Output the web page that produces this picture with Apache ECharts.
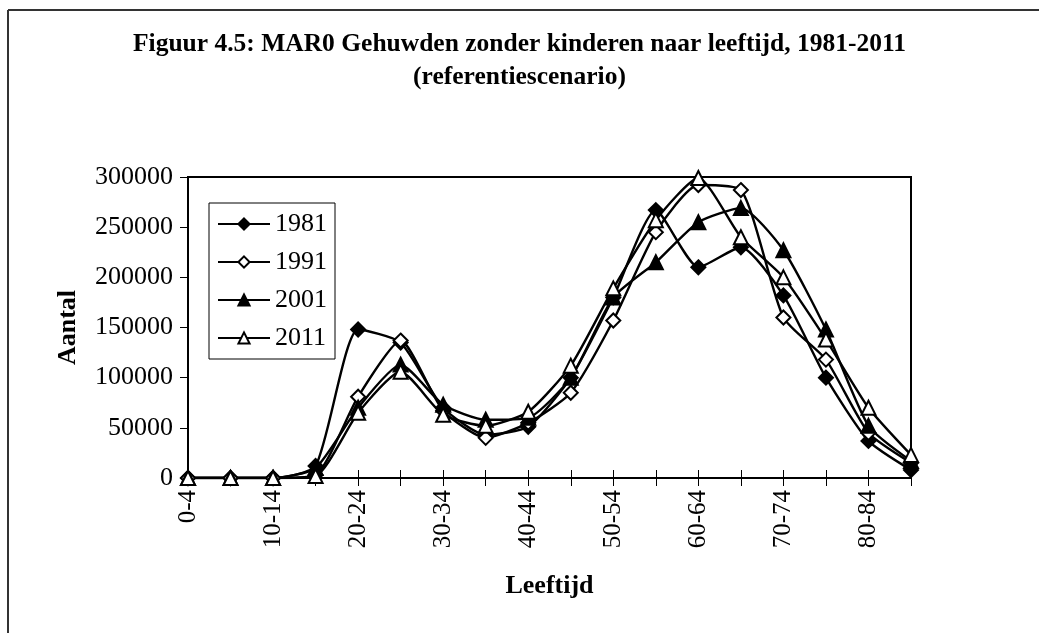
<!DOCTYPE html>
<html>
<head>
<meta charset="utf-8">
<script src="https://cdn.jsdelivr.net/npm/echarts@6/dist/echarts.min.js"></script>
<style>html,body{margin:0;padding:0;background:#fff;}#c{width:1039px;height:633px;}</style>
</head>
<body>
<div id="c"></div>
<script>
var categories = ['0-4','5-9','10-14','15-19','20-24','25-29','30-34','35-39','40-44','45-49','50-54','55-59','60-64','65-69','70-74','75-79','80-84','85+'];
var s1981 = [0,0,0,12000,148000,135000,70000,43000,51000,100000,180000,267000,210000,230000,182000,100000,37000,8000];
var s1991 = [0,0,0,3000,81000,137000,67000,40000,55000,85000,157000,245000,292000,287000,160000,118000,45000,15000];
var s2001 = [0,0,0,10000,70000,113000,73000,58000,60000,100000,180000,215000,255000,269000,227000,148000,52000,17000];
var s2011 = [0,0,0,2000,65000,106000,63000,52000,66000,112000,189000,257000,299000,240000,200000,138000,70000,23000];
var seriesNames = ['1981','1991','2001','2011'];
var yTicks = [0,50000,100000,150000,200000,250000,300000];

var FONT = '"Liberation Serif", "Times New Roman", serif';
var chart = echarts.init(document.getElementById('c'), null, {renderer: 'canvas'});

function mk(name, data, symbol, filled) {
  return {
    name: name, type: 'line', data: data, smooth: 0.2,
    symbol: symbol, symbolSize: 14,
    showSymbol: true,
    lineStyle: {color: '#000', width: 2.4},
    itemStyle: {color: filled ? '#000' : '#fff', borderColor: '#000', borderWidth: 2},
    emphasis: {disabled: true},
    z: 3
  };
}

chart.setOption({
  animation: false,
  backgroundColor: '#fff',
  title: {
    text: 'Figuur 4.5: MAR0 Gehuwden zonder kinderen naar leeftijd, 1981-2011\n(referentiescenario)',
    left: 'center', top: 23,
    textStyle: {fontFamily: FONT, fontWeight: 'bold', fontSize: 25.5, lineHeight: 33, color: '#000'}
  },
  graphic: [
    {type: 'line', shape: {x1: 8, y1: 10, x2: 1039, y2: 10}, style: {stroke: '#333', lineWidth: 2}},
    {type: 'line', shape: {x1: 8, y1: 10, x2: 8, y2: 633}, style: {stroke: '#333', lineWidth: 2}}
  ],
  legend: {
    orient: 'vertical', left: 209, top: 203,
    data: seriesNames,
    itemWidth: 52, itemHeight: 14, itemGap: 12,
    borderColor: '#000', borderWidth: 1, padding: [8, 8, 8, 8],
    textStyle: {fontFamily: FONT, fontSize: 26, color: '#000'}
  },
  grid: {left: 188, top: 177, right: 128, bottom: 155, show: true, borderColor: '#000', borderWidth: 2, backgroundColor: 'transparent'},
  xAxis: [{
    type: 'category', data: categories, boundaryGap: false,
    name: 'Leeftijd', nameLocation: 'middle', nameGap: 95,
    nameTextStyle: {fontFamily: FONT, fontWeight: 'bold', fontSize: 26, color: '#000'},
    axisLine: {lineStyle: {color: '#000', width: 2}},
    axisTick: {show: true, interval: 0, length: 8, lineStyle: {color: '#000', width: 1}},
    axisLabel: {interval: 1, rotate: 90, margin: 12, fontFamily: FONT, fontSize: 25, color: '#000'},
    splitLine: {show: false}
  }, {
    type: 'category', data: categories, boundaryGap: false, position: 'bottom',
    axisLine: {show: false},
    axisTick: {show: true, inside: true, interval: 0, length: 8, lineStyle: {color: '#000', width: 1}},
    axisLabel: {show: false}, splitLine: {show: false}
  }],
  yAxis: {
    type: 'value', min: 0, max: 300000, interval: 50000,
    name: 'Aantal', nameLocation: 'middle', nameGap: 107, nameRotate: 90,
    nameTextStyle: {fontFamily: FONT, fontWeight: 'bold', fontSize: 26, color: '#000'},
    axisLine: {show: true, lineStyle: {color: '#000', width: 2}},
    axisTick: {show: true, length: 8, lineStyle: {color: '#000', width: 1}},
    axisLabel: {margin: 15, fontFamily: FONT, fontSize: 26, color: '#000',
      formatter: function (v) { return yTicks.indexOf(v) >= 0 ? String(v) : ''; }},
    splitLine: {show: false}
  },
  series: [
    mk('1981', s1981, 'diamond', true),
    mk('1991', s1991, 'diamond', false),
    mk('2001', s2001, 'triangle', true),
    mk('2011', s2011, 'triangle', false)
  ]
});
</script>
</body>
</html>
